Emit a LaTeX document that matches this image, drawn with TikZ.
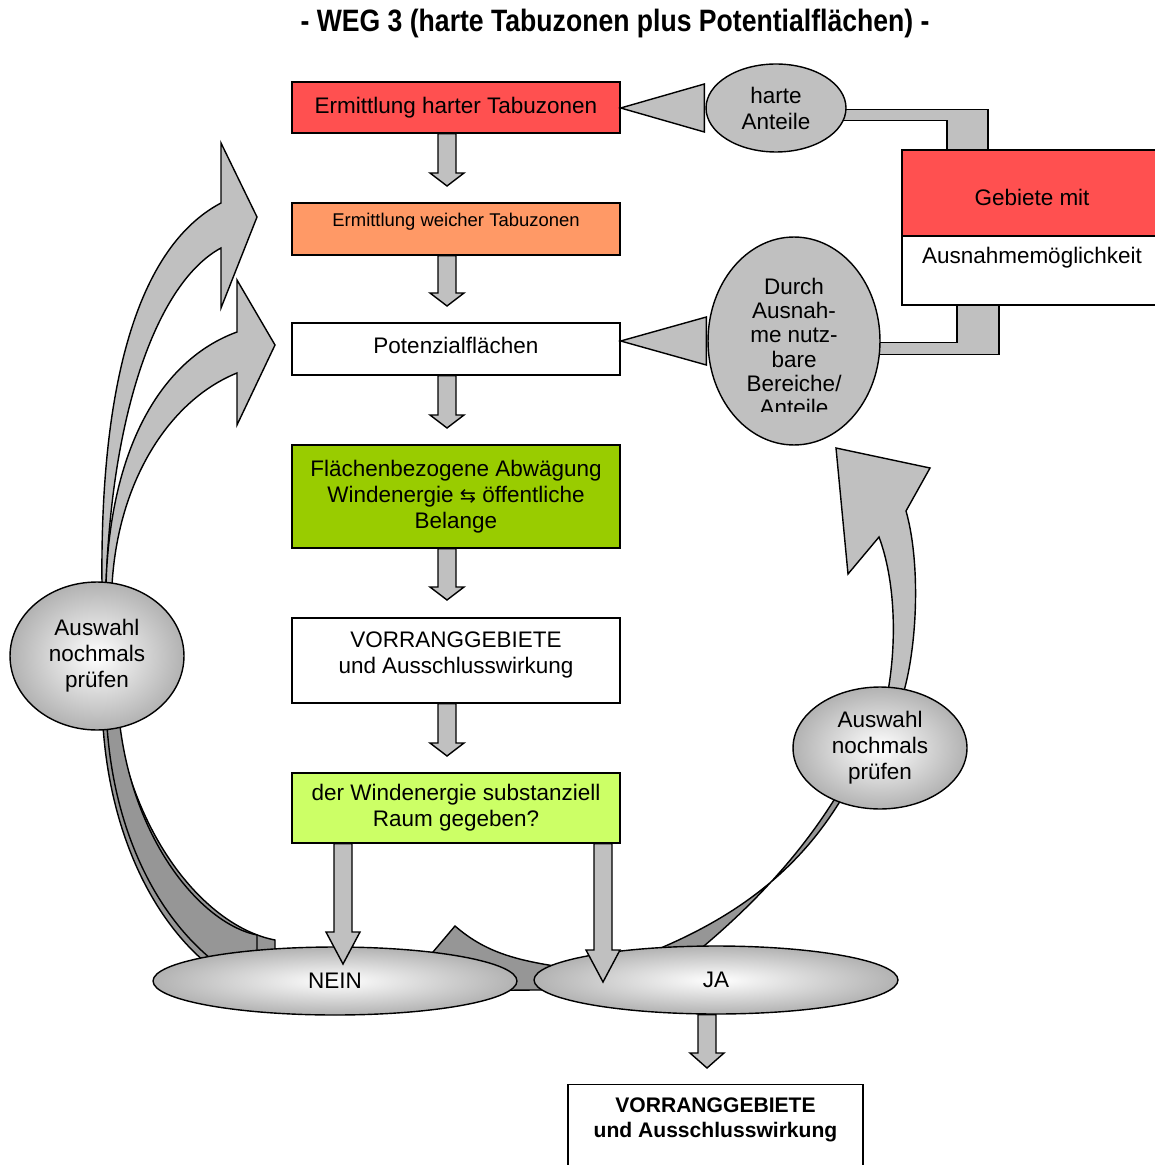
\documentclass[tikz,border=0pt]{standalone}
\usepackage{fontspec}
\setmainfont{Liberation Sans}
\newfontfamily\titlefont[FakeStretch=0.86]{Liberation Sans}
\newfontfamily\symfont{DejaVu Sans}
\usepackage{xcolor}
\usepackage{tikz}
\usetikzlibrary{shapes,calc}

\definecolor{tabuRed}{RGB}{255,80,80}
\definecolor{tabuOrange}{RGB}{255,153,102}
\definecolor{abwGreen}{RGB}{153,204,0}
\definecolor{frageGreen}{RGB}{204,255,102}
\definecolor{pfeilGray}{RGB}{192,192,192}
\definecolor{bogenGray}{RGB}{150,150,150}
\definecolor{ovalGray}{RGB}{178,178,178}

\newcommand{\mainsize}{\fontsize{12.8}{14.8}\selectfont}

\tikzstyle{tsBox} = [
    rectangle,
    draw=black,
    line width=0.8pt,
    minimum width=6.56cm,
    align=center,
    font=\mainsize,
    text=black
]
\tikzstyle{tsOval} = [
    ellipse,
    draw=black,
    line width=0.8pt,
    inner sep=0pt,
    align=center,
    font=\mainsize
]
\tikzstyle{tsShadeOval} = [
    tsOval,
    inner color=white,
    outer color=ovalGray
]
\tikzstyle{tsBlock} = [
    draw=black,
    line width=0.8pt,
    fill=pfeilGray
]
\tikzstyle{tsBogen} = [
    draw=black,
    line width=0.8pt,
    fill=bogenGray
]

% block arrow: [head length]{node it leaves}{tip coordinate}
\newcommand{\blockdown}[3][13]{%
  \draw[tsBlock] ($(#3 |- #2.south)+(-9,0)$) -- ($(#3)+(-9,-#1)$) -- ($(#3)+(-17,-#1)$) -- (#3)
    -- ($(#3)+(17,-#1)$) -- ($(#3)+(9,-#1)$) -- ($(#3 |- #2.south)+(9,0)$) -- cycle;}
% triangle arrow: {oval it leaves}{node it points at}
\newcommand{\blockleft}[2]{%
  \draw[tsBlock] (#2.east |- #1.west) -- ($(#1.west)+(-1,-24)$) -- ($(#1.west)+(-1,24)$) -- cycle;}

\begin{document}
\begin{tikzpicture}[x=0.02cm, y=-0.02cm]

        \useasboundingbox (0,0) rectangle (1154,1165);

        \node[font=\titlefont\bfseries\fontsize{17.6}{20}\selectfont] (title) at (615,24)
            {- WEG 3 (harte Tabuzonen plus Potentialflächen) -};

        \coordinate (ovalLtop) at (97,582);
        \coordinate (ovalLbot) at (97,730);
        \coordinate (ovalRtop) at (880,687);

        % dark gray curves behind the ovals
        \draw[tsBogen] ($(ovalLbot)+(6,-4)$) .. controls (110,830) and (150,915) .. (205,962)
            -- (275,970) -- (275,940) .. controls (212,928) and (140,850) .. ($(ovalLbot)+(20,-4)$) -- cycle;
        \draw[tsBogen] ($(ovalLbot)+(10,-4)$) .. controls (114,830) and (155,912) .. (210,958)
            -- (257,962) -- (257,935) .. controls (203,924) and (135,845) .. ($(ovalLbot)+(23,-4)$) -- cycle;
        \draw[tsBogen] (580,972) -- (561,967) .. controls (515,960) and (485,952) .. (455,926)
            -- (405,985) -- (470,992) .. controls (510,990) .. (560,990) -- (590,985) -- cycle;
        \draw[tsBogen] (656,950) .. controls (740,915) and (800,868) .. (842,798)
            -- (834,800) .. controls (790,870) and (735,920) .. (698,951) -- cycle;

        % light gray curved arrows
        \draw[tsBlock] ($(ovalLtop)+(5,3)$) .. controls (100,400) and (132,250) .. (221,203)
            -- (221,143) -- (257,217) -- (221,308) -- (221,248)
            .. controls (158,282) and (112,410) .. ($(ovalLtop)+(9,3)$) -- cycle;
        \draw[tsBlock] ($(ovalLtop)+(9,3)$) .. controls (110,450) and (160,360) .. (237,332)
            -- (237,280) -- (275,345) -- (237,425) -- (237,373)
            .. controls (170,400) and (118,480) .. ($(ovalLtop)+(15,3)$) -- cycle;
        \draw[tsBlock] ($(ovalRtop)+(8,4)$) .. controls (897,640) and (895,580) .. (879,537)
            -- (848,574) -- (836,448) -- (930,468) -- (906,511)
            .. controls (920,560) and (918,640) .. ($(ovalRtop)+(24,4)$) -- cycle;

        % boxes
        \node[tsBox, fill=tabuRed, minimum height=1.02cm] (hart) at (456,107.5)
            {Ermittlung harter Tabuzonen};
        \node[tsBox, fill=tabuOrange, minimum height=1.04cm, text depth=11pt,
              font=\fontsize{10.5}{12.5}\selectfont] (weich) at (456,229)
            {Ermittlung weicher Tabuzonen};
        \node[tsBox, fill=white, minimum height=1.04cm, text depth=4.6pt] (potenzial) at (456,349)
            {Potenzialflächen};
        \node[tsBox, fill=abwGreen, minimum height=2.06cm] (abwaegung) at (456,496.5)
            {Flächenbezogene Abwägung\\Windenergie {\symfont\fontsize{11}{14}\selectfont ⇆} öffentliche\\Belange};
        \node[tsBox, fill=white, minimum height=1.7cm, text depth=9pt] (vorrang) at (456,660.5)
            {VORRANGGEBIETE\\und Ausschlusswirkung};
        \node[tsBox, fill=frageGreen, minimum height=1.4cm] (frage) at (456,808)
            {der Windenergie substanziell\\Raum gegeben?};

        \node[tsBox, fill=tabuRed, minimum width=5.2cm, minimum height=1.72cm,
              text height=13.8pt, text depth=0pt] (gebiete) at (1032,193)
            {Gebiete mit};
        \node[tsBox, fill=white, minimum width=5.2cm, minimum height=1.38cm, text depth=17pt] (ausnahme) at (1032,270.5)
            {Ausnahmemöglichkeit};

        \node[tsBox, anchor=north, minimum width=5.9cm, inner ysep=7.3pt, text depth=40pt,
              font=\bfseries\fontsize{12}{14.2}\selectfont] (ergebnis) at (715.5,1084)
            {VORRANGGEBIETE\\und Ausschlusswirkung};

        % gray bands from the exception box
        \draw[tsBlock] ($(gebiete.north)+(-190,-40)$) -| ($(gebiete.north)+(-44,0)$)
            -- ($(gebiete.north)+(-85,0)$) |- ($(gebiete.north)+(-190,-29)$) -- cycle;
        \draw[tsBlock] ($(ausnahme.south)+(-75,0)$) |- ($(ausnahme.south)+(-160,37)$)
            -- ($(ausnahme.south)+(-160,49)$) -| ($(ausnahme.south)+(-33,0)$) -- cycle;

        % ovals
        \node[tsOval, fill=pfeilGray, minimum width=2.8cm, minimum height=1.76cm] (harte) at (776,108)
            {harte\\Anteile};
        \node[tsOval, fill=pfeilGray, minimum width=3.44cm, minimum height=4.16cm] (durch) at (794,341) {};
        \begin{scope}
            \clip (700,230) rectangle (890,411);
            \node[align=center, font=\fontsize{12.8}{13.8}\selectfont] (durchtext) at (794,347)
                {Durch\\Ausnah-\\me nutz-\\bare\\Bereiche/\\Anteile};
        \end{scope}

        \node[tsShadeOval, minimum width=3.48cm, minimum height=2.96cm] (auswahlL) at (97,656)
            {Auswahl\\nochmals\\prüfen};
        \node[tsShadeOval, minimum width=3.48cm, minimum height=2.44cm] (auswahlR) at (880,748)
            {Auswahl\\nochmals\\prüfen};
        \node[tsShadeOval, minimum width=7.28cm, minimum height=1.36cm] (nein) at (335,981) {NEIN};
        \node[tsShadeOval, minimum width=7.28cm, minimum height=1.36cm] (ja) at (716,980) {JA};

        % arrows
        \blockleft{harte}{hart}
        \blockleft{durch}{potenzial}

        \coordinate (tipA) at (447,186);
        \coordinate (tipB) at (447,306);
        \coordinate (tipC) at (447,428);
        \coordinate (tipD) at (447,600);
        \coordinate (tipE) at (447,756);
        \coordinate (tipNein) at (343,964);
        \coordinate (tipJa) at (603,982);
        \coordinate (tipEnde) at (707,1068);

        \blockdown{hart}{tipA}
        \blockdown{weich}{tipB}
        \blockdown{potenzial}{tipC}
        \blockdown{abwaegung}{tipD}
        \blockdown{vorrang}{tipE}
        \blockdown[32]{frage}{tipNein}
        \blockdown[32]{frage}{tipJa}
        \blockdown[15]{ja}{tipEnde}

\end{tikzpicture}
\end{document}
